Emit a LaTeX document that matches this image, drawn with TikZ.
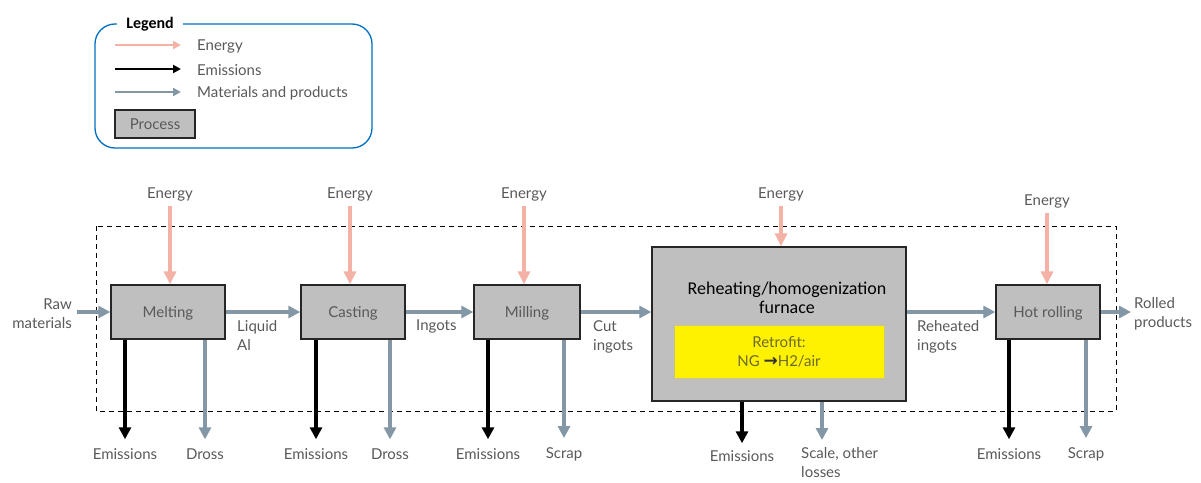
\documentclass[tikz,border=0pt]{standalone}
\usepackage{fontspec}
\setmainfont{Lato}
\newfontfamily\titlefont{Carlito}
\newfontfamily\symfont{DejaVu Sans}
\usetikzlibrary{arrows.meta,positioning,calc}
\definecolor{energycol}{HTML}{F4B1A6}
\definecolor{matcol}{HTML}{8497A6}
\definecolor{txtcol}{HTML}{595959}
\definecolor{procfill}{HTML}{BFBFBF}
\definecolor{legcol}{HTML}{0070C0}
\definecolor{retrocol}{HTML}{6B6B2E}

\begin{document}
\begin{tikzpicture}[x=1pt, y=-1pt,
  font=\fontsize{15}{19}\selectfont,
  lbl/.style={text=txtcol, align=center, inner sep=1pt},
  lbll/.style={text=txtcol, align=left, inner sep=1pt},
  proc/.style={draw=black!85, line width=1.3pt, fill=procfill, text=txtcol, text depth=0pt, minimum height=54pt, minimum width=104pt},
  energy/.style={draw=energycol, line width=3.5pt, -{Triangle[length=13pt,width=12pt]}},
  emis/.style={draw=black, line width=3.5pt, -{Triangle[length=12pt,width=12pt]}},
  mat/.style={draw=matcol, line width=3.5pt, -{Triangle[length=12pt,width=12pt]}},
  legarrow/.style={line width=2.2pt, -{Triangle[length=8pt,width=8pt]}}
]
\useasboundingbox (0,0) rectangle (1201,482);

% legend
\draw[legcol, line width=1.3pt, rounded corners=20pt] (95,24) rectangle (372,148);
\node[fill=white, font=\titlefont\bfseries\fontsize{16}{19}\selectfont, inner xsep=9pt] (leg) at (150,24) {Legend};
\coordinate (lg1) at (115,45);
\coordinate (lg2) at (115,69);
\coordinate (lg3) at (115,92);
\node[lbll, anchor=west] (lt1) at (196,46) {Energy};
\node[lbll, anchor=west] (lt2) at (196,70) {Emissions};
\node[lbll, anchor=west] (lt3) at (196,93) {Materials and products};
\draw[legarrow, energycol] (lg1) -- ([xshift=-15pt]lt1.west |- lg1);
\draw[legarrow, black] (lg2) -- ([xshift=-15pt]lt2.west |- lg2);
\draw[legarrow, matcol] (lg3) -- ([xshift=-15pt]lt3.west |- lg3);
\node[proc, minimum width=80pt, minimum height=28pt] (lgproc) at (155,124) {Process};

% system boundary
\draw[dashed, line width=1pt, dash pattern=on 5pt off 4pt] (96,226) rectangle (1116,411);

% processes
\node[proc, minimum width=114pt] (melt) at (168,312) {Melting};
\node[proc] (cast) at (353,312) {Casting};
\node[proc, minimum width=106pt] (mill) at (527,312) {Milling};
\node[proc, minimum width=254pt, minimum height=154pt] (furn) at (779,324) {};
\node[font=\titlefont\fontsize{18}{19}\selectfont, align=center] (furntitle) at (787,298) {Reheating/homogenization\\furnace};
\node[draw=yellow!60!black!60, fill=yellow, minimum width=210pt, minimum height=53pt, text=retrocol, align=center] (retro) at (779,352) {Retrofit:\\NG {\symfont\bfseries\fontsize{17}{19}\selectfont\color{black!80}→}H2/air};
\node[proc] (roll) at (1048,312) {Hot rolling};

% energy inputs
\node[lbl] (e1) at (170,194) {Energy};
\node[lbl] (e2) at (350,194) {Energy};
\node[lbl] (e3) at (524,194) {Energy};
\node[lbl] (e4) at (781,194) {Energy};
\node[lbl] (e5) at (1047,201) {Energy};
\draw[energy, shorten <=4pt] (e1.south) -- (e1.south |- melt.north);
\draw[energy, shorten <=4pt] (e2.south) -- (e2.south |- cast.north);
\draw[energy, shorten <=4pt] (e3.south) -- (e3.south |- mill.north);
\draw[energy, shorten <=4pt] (e4.south) -- (e4.south |- furn.north);
\draw[energy, shorten <=4pt] (e5.south) -- (e5.south |- roll.north);

% material flow
\node[lbl, align=right, anchor=east] (raw) at (73,314) {Raw\\materials};
\node[lbll, anchor=west] (rolled) at (1133,314) {Rolled\\products};
\node[lbll, anchor=north west] (liq) at (236,319) {Liquid\\Al};
\node[lbll, anchor=north west] (ing) at (415,319) {Ingots};
\node[lbll, anchor=north west] (cut) at (592,319) {Cut\\ingots};
\node[lbll, anchor=north west] (reh) at (916,319) {Reheated\\ingots};
\draw[mat, shorten <=4pt] (raw.east |- melt) -- (melt.west);
\draw[mat] (melt) -- (cast);
\draw[mat] (cast) -- (mill);
\draw[mat] (mill) -- (mill -| furn.west);
\draw[mat] (furn.east |- roll) -- (roll);
\draw[mat, shorten >=2pt] (roll.east) -- (rolled.west |- roll);

% outputs
\node[lbl] (em1) at (125,454) {Emissions};
\node[lbl] (dr1) at (205,454) {Dross};
\node[lbl] (em2) at (316,454) {Emissions};
\node[lbl] (dr2) at (390,454) {Dross};
\node[lbl] (em3) at (488,454) {Emissions};
\node[lbl] (sc3) at (564,454) {Scrap};
\node[lbl] (em4) at (742,456) {Emissions};
\node[lbll, anchor=north west] (sc4) at (800,446) {Scale, other\\losses};
\coordinate (sc4top) at ([xshift=22pt]sc4.north west);
\node[lbl] (em5) at (1009,454) {Emissions};
\node[lbl] (sc5) at (1086,454) {Scrap};
\draw[emis, shorten >=8pt] (melt.south -| em1.north) -- (em1.north);
\draw[mat, shorten >=8pt] (melt.south -| dr1.north) -- (dr1.north);
\draw[emis, shorten >=8pt] (cast.south -| em2.north) -- (em2.north);
\draw[mat, shorten >=8pt] (cast.south -| dr2.north) -- (dr2.north);
\draw[emis, shorten >=8pt] (mill.south -| em3.north) -- (em3.north);
\draw[mat, shorten >=8pt] (mill.south -| sc3.north) -- (sc3.north);
\draw[emis, shorten >=6pt] (furn.south -| em4.north) -- (em4.north);
\draw[mat, shorten >=6pt] (furn.south -| sc4top) -- (sc4top);
\draw[emis, shorten >=8pt] (roll.south -| em5.north) -- (em5.north);
\draw[mat, shorten >=8pt] (roll.south -| sc5.north) -- (sc5.north);
\end{tikzpicture}
\end{document}
